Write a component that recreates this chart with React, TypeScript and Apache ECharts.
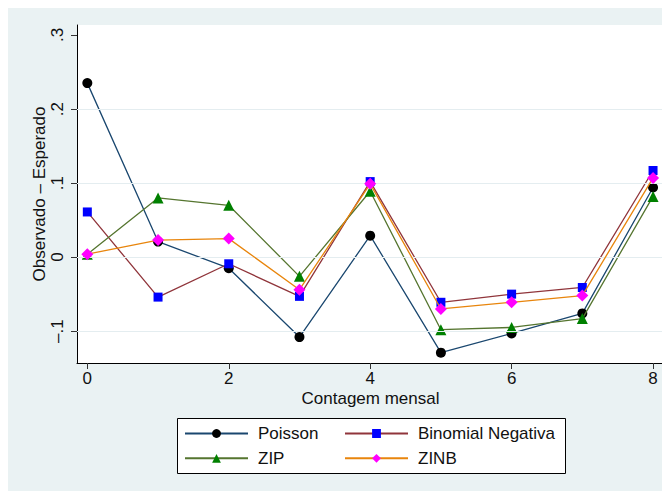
import React, { useEffect, useRef } from "react";
import * as echarts from "echarts";

const categories = [0, 1, 2, 3, 4, 5, 6, 7, 8];
const poisson = [0.235, 0.021, -0.015, -0.108, 0.029, -0.129, -0.103, -0.076, 0.094];
const negBin = [0.061, -0.054, -0.009, -0.053, 0.102, -0.061, -0.05, -0.041, 0.117];
const zip = [0.004, 0.08, 0.07, -0.026, 0.089, -0.098, -0.095, -0.083, 0.082];
const zinb = [0.004, 0.023, 0.025, -0.044, 0.099, -0.07, -0.061, -0.052, 0.107];

const xTicks = [0, 2, 4, 6, 8];
const yTicks = [-0.1, 0, 0.1, 0.2, 0.3];
const yTickLabels = ["\u2013.1", "0", ".1", ".2", ".3"];
const gridValues = [-0.1, 0, 0.1, 0.2];

const FONT = "'Liberation Sans', Arial, Helvetica, sans-serif";

function pairs(vals: number[]) {
  return categories.map((c, i) => [c, vals[i]]);
}

export default function App() {
  const ref = useRef<HTMLDivElement>(null);
  useEffect(() => {
    if (!ref.current) return;
    const chart = echarts.init(ref.current, undefined, { renderer: "svg" });
    const lineW = 1.3;
    const legendCommon = {
      orient: "vertical" as const,
      itemWidth: 63,
      itemHeight: 11,
      itemGap: 7.8,
      top: 417,
      selectedMode: false,
      textStyle: { fontFamily: FONT, fontSize: 17, color: "#111", padding: [0, 0, 0, 5] },
      padding: 0,
    };
    chart.setOption({
      animation: false,
      backgroundColor: "#eaf2f3",
      textStyle: { fontFamily: FONT },
      grid: { left: 69, top: 17, right: 6, bottom: 128, show: true, backgroundColor: "#ffffff", borderWidth: 0 },
      xAxis: {
        type: "value",
        min: -0.146,
        max: 8.155,
        name: "Contagem mensal",
        nameLocation: "middle",
        nameGap: 27,
        nameMoveOverlap: false,
        nameTextStyle: { fontFamily: FONT, fontSize: 17, color: "#111" },
        axisLine: { show: true, onZero: false, lineStyle: { color: "#000", width: 1 } },
        axisTick: { show: true, length: 6, customValues: xTicks, lineStyle: { color: "#333" } },
        axisLabel: { customValues: xTicks, margin: 7, fontFamily: FONT, fontSize: 17, color: "#111" },
        splitLine: { show: false },
      },
      yAxis: {
        type: "value",
        min: -0.143,
        max: 0.3135,
        name: "Observado \u2013 Esperado",
        nameLocation: "middle",
        nameGap: 29,
        nameMoveOverlap: false,
        nameRotate: 90,
        nameTextStyle: { fontFamily: FONT, fontSize: 17, color: "#111" },
        axisLine: { show: true, onZero: false, lineStyle: { color: "#000", width: 1 } },
        axisTick: { show: true, length: 6, customValues: yTicks, lineStyle: { color: "#333" } },
        axisLabel: {
          customValues: yTicks,
          rotate: 90,
          margin: 11,
          fontFamily: FONT,
          fontSize: 17,
          color: "#111",
          formatter: (v: number) => {
            let best = 0;
            yTicks.forEach((t, i) => {
              if (Math.abs(t - v) < Math.abs(yTicks[best] - v)) best = i;
            });
            return yTickLabels[best];
          },
        },
        splitLine: { show: false },
      },
      legend: [
        { ...legendCommon, left: 176, data: ["Poisson", "ZIP"] },
        { ...legendCommon, left: 336, data: ["Binomial Negativa", "ZINB"] },
      ],
      graphic: [
        {
          type: "rect",
          left: 169,
          top: 410,
          shape: { width: 388, height: 55 },
          style: { fill: "#ffffff", stroke: "#000", lineWidth: 1 },
          z: -1,
          silent: true,
        },
      ],
      series: [
        {
          name: "grid",
          type: "line",
          data: [[0, 0]],
          symbol: "none",
          lineStyle: { opacity: 0 },
          silent: true,
          z: 1,
          markLine: {
            silent: true,
            symbol: "none",
            label: { show: false },
            lineStyle: { color: "#e4edf0", width: 1, type: "solid" },
            data: gridValues.map((v) => ({ yAxis: v })),
          },
        },
        {
          name: "Poisson",
          type: "line",
          data: pairs(poisson),
          symbol: "circle",
          symbolSize: 10,
          z: 2,
          lineStyle: { color: "#1a476f", width: lineW },
          itemStyle: { color: "#000000" },
        },
        {
          name: "Binomial Negativa",
          type: "line",
          data: pairs(negBin),
          symbol: "rect",
          symbolSize: 9,
          z: 3,
          lineStyle: { color: "#90353b", width: lineW },
          itemStyle: { color: "#0000ff" },
        },
        {
          name: "ZIP",
          type: "line",
          data: pairs(zip),
          symbol: "triangle",
          symbolSize: 11,
          z: 4,
          lineStyle: { color: "#55752f", width: lineW },
          itemStyle: { color: "#008000" },
        },
        {
          name: "ZINB",
          type: "line",
          data: pairs(zinb),
          symbol: "diamond",
          symbolSize: 12,
          z: 5,
          lineStyle: { color: "#e8850c", width: lineW },
          itemStyle: { color: "#ff00ff" },
        },
      ],
    });
    return () => chart.dispose();
  }, []);
  return <div ref={ref} style={{ width: 662, height: 483 }} />;
}
